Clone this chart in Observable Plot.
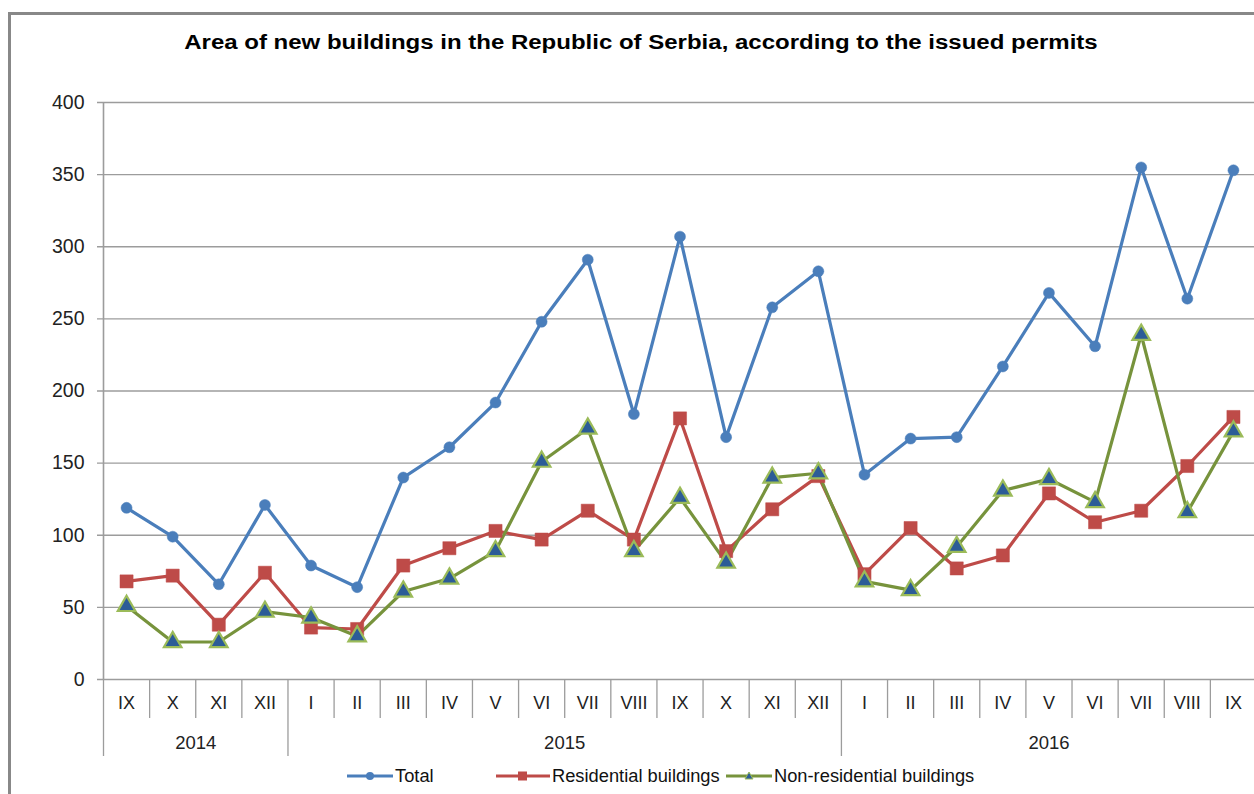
<!DOCTYPE html>
<html>
<head>
<meta charset="utf-8">
<script src="https://cdn.jsdelivr.net/npm/d3@7"></script>
<script src="https://cdn.jsdelivr.net/npm/@observablehq/plot@0.6"></script>
<style>
  html, body { margin: 0; padding: 0; background: #fff; }
  #wrap { position: relative; width: 1254px; height: 794px; overflow: hidden; font-family: "Liberation Sans", Arial, sans-serif; }
  #frame { position: absolute; left: 8px; top: 12px; width: 1400px; height: 900px; border-left: 3px solid #888; border-top: 3px solid #888; }
  #title { position: absolute; left: 28px; width: 1226px; top: 31px; text-align: center; font-weight: bold; font-size: 20px; color: #000; transform: scaleX(1.2); transform-origin: 613px 50%; }
  #chart { position: absolute; left: 0; top: 70px; }
  .leg { position: absolute; top: 764px; height: 24px; display: flex; align-items: center; font-size: 18.3px; color: #111; }
  .leg svg { display: block; }
</style>
</head>
<body>
<div id="wrap">
  <div id="frame"></div>
  <div id="title">Area of new buildings in the Republic of Serbia, according to the issued permits</div>
  <div id="chart"></div>
  <div id="legend"></div>
</div>
<script>
const months = ["IX","X","XI","XII","I","II","III","IV","V","VI","VII","VIII","IX","X","XI","XII","I","II","III","IV","V","VI","VII","VIII","IX"];
const years = ["2014","2015","2016"];
const yearStart = [0, 4, 16];
const yearEnd = [4, 16, 25];
const total = [119,99,66,121,79,64,140,161,192,248,291,184,307,168,258,283,142,167,168,217,268,231,355,264,353];
const residential = [68,72,38,74,36,35,79,91,103,97,117,97,181,89,118,141,73,105,77,86,129,109,117,148,182];
const nonResidential = [51,26,26,47,43,30,61,70,89,151,174,89,126,81,140,143,68,62,92,131,139,123,239,116,172];
const yTicks = [0,50,100,150,200,250,300,350,400];
const seriesNames = ["Total","Residential buildings","Non-residential buildings"];

const blue = "#4A7EBB", red = "#BE4B48", green = "#77933C", lightGreen = "#9BBB59", darkBlue = "#2C5C97";
const grid = "#9c9c9c";
const font = "Liberation Sans, Arial, sans-serif";

const rows = (vals) => vals.map((v, i) => ({i: i + 0.5, v}));
const sepIdx = d3.range(0, 26);
const longSep = yearStart;
const yearRows = years.map((y, k) => ({label: y, c: (yearStart[k] + yearEnd[k]) / 2}));
const monthRows = months.map((m, i) => ({m, i: i + 0.5}));

const chart = Plot.plot({
  width: 1254,
  height: 689,
  marginTop: 32,
  marginBottom: 80,
  marginLeft: 103,
  marginRight: 0,
  style: {fontFamily: font, background: "transparent"},
  x: {domain: [0, 25], range: [103, 1256], axis: null},
  y: {domain: [0, 400], ticks: yTicks, axis: null},
  marks: [
    Plot.ruleY(yTicks, {x1: 0, x2: 25, insetLeft: -6, stroke: grid, strokeWidth: 1.4}),
    Plot.ruleX([0], {y1: 0, y2: 400, stroke: grid, strokeWidth: 1.6}),
    Plot.text(yTicks, {x: 0, y: d => d, text: d => String(d), textAnchor: "end", dx: -19, fontSize: 19.5, fill: "#222"}),
    // category separators
    Plot.ruleX(sepIdx.filter(d => !longSep.includes(d)), {x: d => d, y1: 0, y2: 0, insetBottom: -39, stroke: grid, strokeWidth: 1.3}),
    Plot.ruleX(longSep, {x: d => d, y1: 0, y2: 0, insetBottom: -77, stroke: grid, strokeWidth: 1.3}),
    Plot.text(monthRows, {x: "i", y: 0, text: "m", dy: 24, fontSize: 18, fill: "#222"}),
    Plot.text(yearRows, {x: "c", y: 0, text: "label", dy: 64, fontSize: 18.5, fill: "#222"}),
    // series
    Plot.line(rows(total), {x: "i", y: "v", stroke: blue, strokeWidth: 3.2}),
    Plot.line(rows(residential), {x: "i", y: "v", stroke: red, strokeWidth: 3.2}),
    Plot.line(rows(nonResidential), {x: "i", y: "v", stroke: green, strokeWidth: 3.2}),
    Plot.dot(rows(total), {x: "i", y: "v", r: 5.5, fill: blue, stroke: blue, strokeWidth: 0.5}),
    Plot.dot(rows(residential), {x: "i", y: "v", symbol: "square", r: 7.4, fill: red, stroke: red, strokeWidth: 0.5}),
    Plot.dot(rows(nonResidential), {x: "i", y: "v", symbol: "triangle", r: 6.5, fill: darkBlue, stroke: lightGreen, strokeWidth: 2.2})
  ]
});
document.getElementById("chart").appendChild(chart);

// legend
const legendItems = [
  {name: seriesNames[0], left: 347, sw: 46, draw: () => `<line x1="0" y1="12" x2="46" y2="12" stroke="${blue}" stroke-width="3"/><circle cx="23" cy="12" r="4" fill="${blue}"/>`},
  {name: seriesNames[1], left: 496, sw: 54, draw: () => `<line x1="0" y1="12" x2="54" y2="12" stroke="${red}" stroke-width="3"/><rect x="22" y="7.5" width="9" height="9" fill="${red}"/>`},
  {name: seriesNames[2], left: 726, sw: 46, draw: () => `<line x1="0" y1="12" x2="46" y2="12" stroke="${green}" stroke-width="3"/><path d="M23,8 L27,15 L19,15 Z" fill="${darkBlue}" stroke="${lightGreen}" stroke-width="1"/>`}
];
const legend = document.getElementById("legend");
for (const it of legendItems) {
  const div = document.createElement("div");
  div.className = "leg";
  div.style.left = it.left + "px";
  div.innerHTML = `<svg width="${it.sw}" height="24">${it.draw()}</svg><span style="margin-left:2px">${it.name}</span>`;
  legend.appendChild(div);
}
</script>
</body>
</html>
